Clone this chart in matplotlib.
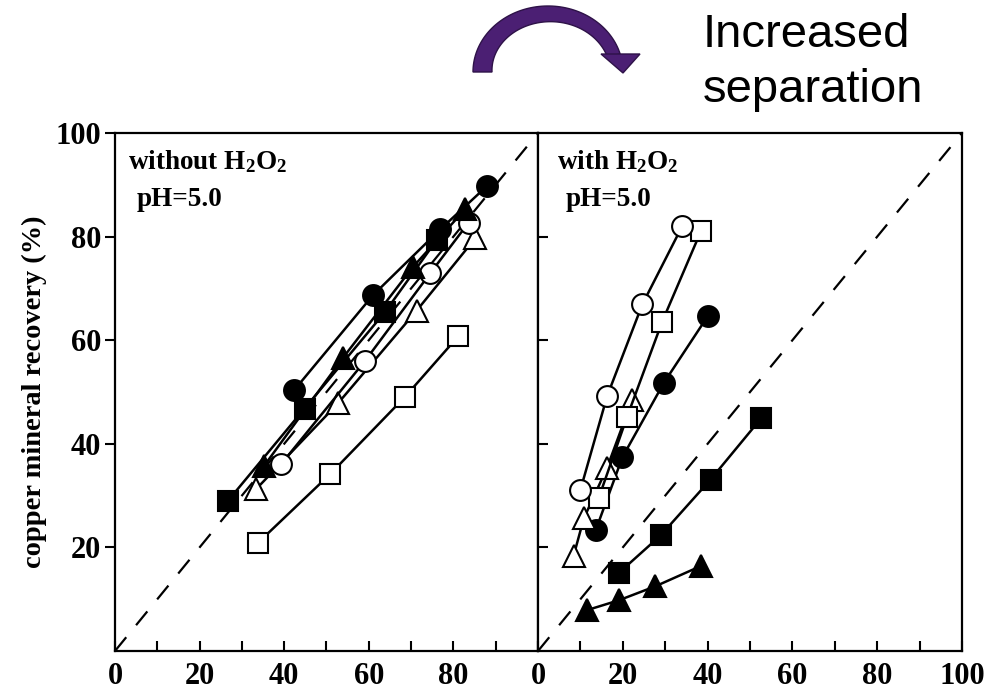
import numpy as np
import matplotlib
matplotlib.use("Agg")
import matplotlib.pyplot as plt
from matplotlib.patches import Polygon

plt.rcParams["font.family"] = ["Liberation Serif", "DejaVu Serif"]
plt.rcParams["mathtext.fontset"] = "custom"
plt.rcParams["mathtext.rm"] = "Liberation Serif:bold"
plt.rcParams["mathtext.it"] = "Liberation Serif:bold"
plt.rcParams["mathtext.bf"] = "Liberation Serif:bold"

# dane: (odzysk minerału towarzyszącego, odzysk miedzi)
# panel lewy - bez H2O2
L_fcirc_x = [42.4, 61.0, 76.9, 88.0]
L_fcirc_y = [50.4, 68.7, 81.4, 89.8]
L_fsq_x = [26.6, 44.8, 63.8, 76.1]
L_fsq_y = [28.9, 46.8, 65.4, 79.4]
L_ftri_x = [35.3, 53.9, 70.5, 82.8]
L_ftri_y = [35.8, 56.6, 74.2, 85.3]
L_ocirc_x = [39.3, 59.1, 74.5, 83.6]
L_ocirc_y = [36.1, 56.0, 72.9, 82.7]
L_otri_x = [33.3, 52.7, 71.3, 85.2]
L_otri_y = [31.2, 47.8, 65.7, 79.7]
L_osq_x = [33.7, 50.8, 68.6, 81.2]
L_osq_y = [20.8, 34.1, 49.1, 60.8]

# panel prawy - z H2O2
R_ocirc_x = [10.0, 16.3, 24.6, 34.0]
R_ocirc_y = [31.1, 49.2, 66.9, 82.0]
R_osq_x = [14.3, 21.0, 29.3, 38.4]
R_osq_y = [29.5, 45.2, 63.6, 81.0]
R_otri_x = [8.4, 10.8, 16.3, 22.2]
R_otri_y = [18.4, 25.6, 35.4, 48.5]
R_fcirc_x = [13.6, 19.9, 29.7, 40.0]
R_fcirc_y = [23.3, 37.4, 51.8, 64.6]
R_fsq_x = [19.1, 28.9, 40.7, 52.6]
R_fsq_y = [15.1, 22.3, 33.1, 44.9]
R_ftri_x = [11.6, 19.1, 27.7, 38.4]
R_ftri_y = [7.9, 9.8, 12.5, 16.4]

x_ticks = [0, 10, 20, 30, 40, 50, 60, 70, 80, 90, 100]
y_ticks = [20, 40, 60, 80, 100]


def draw_series(ax, x, y, marker, filled, ms):
    face = "black" if filled else "white"
    ax.plot(x, y, color="black", lw=1.8, marker=marker, ms=ms,
            mfc=face, mec="black", mew=1.5, zorder=3)


def style_axis(ax, show_100):
    ax.set_xlim(0, 100)
    ax.set_ylim(0, 100)
    ax.plot([0, 100], [0, 100], color="black", lw=1.6, ls=(0, (8, 7)), zorder=1)
    ax.set_xticks(x_ticks)
    labels = []
    for t in x_ticks:
        if t % 20 == 0 and (t < 100 or show_100):
            labels.append(str(t))
        else:
            labels.append("")
    ax.set_xticklabels(labels)
    ax.tick_params(axis="x", direction="in", length=7, width=1.5, pad=8,
                   labelsize=22)
    for lab in ax.get_xticklabels():
        lab.set_fontweight("bold")
    for s in ax.spines.values():
        s.set_linewidth(1.6)


fig = plt.figure(figsize=(9.87, 6.93), dpi=100)
ax1 = fig.add_axes([0.1165, 0.0606, 0.4286, 0.7475])
ax2 = fig.add_axes([0.5451, 0.0606, 0.4296, 0.7475])

style_axis(ax1, False)
style_axis(ax2, True)

ax1.set_yticks(y_ticks)
ax1.set_yticklabels([str(t) for t in y_ticks])
ax1.tick_params(axis="y", direction="out", length=7, width=1.5, pad=3,
                labelsize=22)
for lab in ax1.get_yticklabels():
    lab.set_fontweight("bold")
ax1.set_ylabel("copper mineral recovery (%)", fontsize=20.5, fontweight="bold",
               labelpad=6)

ax2.set_yticks(y_ticks[:-1])
ax2.set_yticklabels([])
ax2.tick_params(axis="y", direction="in", length=7, width=1.5)

draw_series(ax1, L_osq_x, L_osq_y, "s", False, 14)
draw_series(ax1, L_otri_x, L_otri_y, "^", False, 16)
draw_series(ax1, L_ocirc_x, L_ocirc_y, "o", False, 15)
draw_series(ax1, L_ftri_x, L_ftri_y, "^", True, 16)
draw_series(ax1, L_fsq_x, L_fsq_y, "s", True, 14)
draw_series(ax1, L_fcirc_x, L_fcirc_y, "o", True, 15)

draw_series(ax2, R_ftri_x, R_ftri_y, "^", True, 16)
draw_series(ax2, R_fsq_x, R_fsq_y, "s", True, 14)
draw_series(ax2, R_fcirc_x, R_fcirc_y, "o", True, 15)
draw_series(ax2, R_otri_x, R_otri_y, "^", False, 16)
draw_series(ax2, R_osq_x, R_osq_y, "s", False, 14)
draw_series(ax2, R_ocirc_x, R_ocirc_y, "o", False, 15)

ax1.text(0.03, 0.97, r"without H$_2$O$_2$", transform=ax1.transAxes,
         fontsize=19.5, fontweight="bold", va="top", ha="left")
ax1.text(0.05, 0.895, "pH=5.0", transform=ax1.transAxes,
         fontsize=19.5, fontweight="bold", va="top", ha="left")
ax2.text(0.045, 0.97, r"with H$_2$O$_2$", transform=ax2.transAxes,
         fontsize=19.5, fontweight="bold", va="top", ha="left")
ax2.text(0.065, 0.895, "pH=5.0", transform=ax2.transAxes,
         fontsize=19.5, fontweight="bold", va="top", ha="left")

# nakładka w pikselach na strzałkę i napis
ov = fig.add_axes([0, 0, 1, 1], zorder=5)
ov.set_xlim(0, 987)
ov.set_ylim(693, 0)
ov.axis("off")
ov.patch.set_alpha(0)

cx, cy = 548, 72
t = np.linspace(np.radians(180), np.radians(16), 80)
thick = np.linspace(19, 13, t.size)
ox = cx + 75 * np.cos(t)
oy = cy - 66 * np.sin(t)
ix = cx + (75 - thick) * np.cos(t)
iy = cy - (66 - thick) * np.sin(t)
band = np.vstack([np.column_stack([ox, oy]), np.column_stack([ix, iy])[::-1]])
ov.add_patch(Polygon(band, closed=True, fc="#4B1F73", ec="#2E1248", lw=1))
ov.add_patch(Polygon([[601, 54], [640, 54], [623, 73]], closed=True,
                     fc="#4B1F73", ec="#2E1248", lw=1))

ov.text(703, 35, "Increased", fontsize=34, family="Liberation Sans",
        va="center", ha="left")
ov.text(703, 90, "separation", fontsize=34, family="Liberation Sans",
        va="center", ha="left")

fig.savefig("out.png", dpi=100)
